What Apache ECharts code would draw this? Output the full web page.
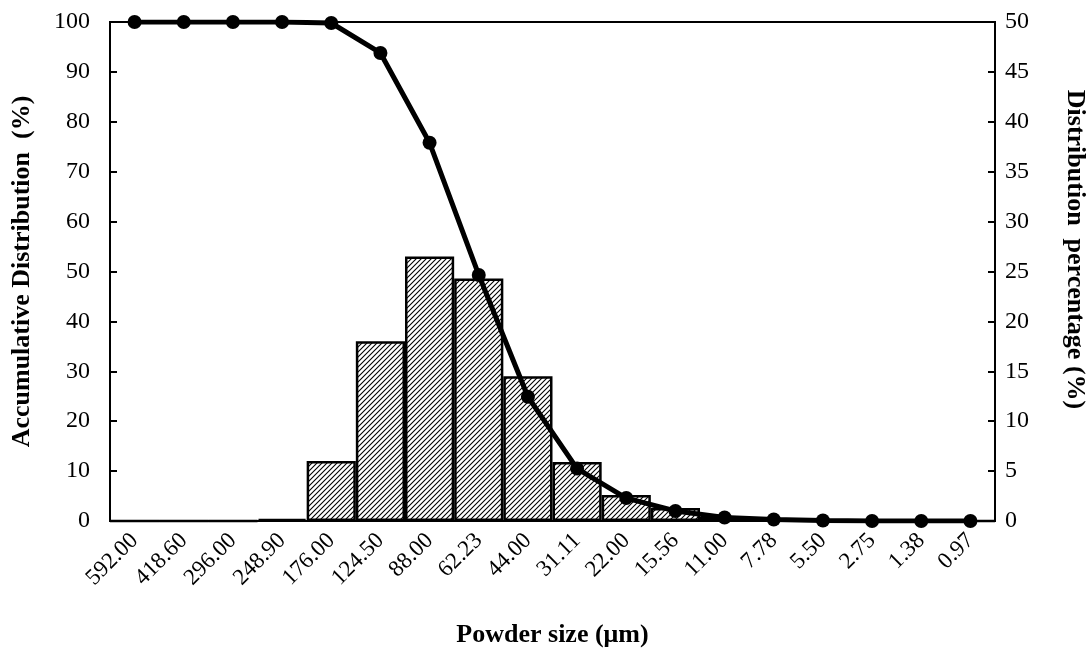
<!DOCTYPE html>
<html>
<head>
<meta charset="utf-8">
<script src="https://cdn.jsdelivr.net/npm/echarts@6/dist/echarts.min.js"></script>
<style>
  html, body { margin: 0; padding: 0; background: #fff; }
  #chart { width: 1090px; height: 651px; }
</style>
</head>
<body>
<div id="chart"></div>
<script>
const sizes = ['592.00', '418.60', '296.00', '248.90', '176.00', '124.50', '88.00', '62.23', '44.00',
  '31.11', '22.00', '15.56', '11.00', '7.78', '5.50', '2.75', '1.38', '0.97']
const distribution = [0, 0, 0, 0.2, 6.0, 18.0, 26.5, 24.3, 14.5, 5.9, 2.6, 1.3, 0.4, 0.2, 0.1, 0, 0, 0]
const accumulative = [100, 100, 100, 100, 99.8, 93.8, 75.8, 49.3, 24.9, 10.5, 4.6, 2.0, 0.7, 0.3, 0.1, 0, 0, 0]

// hatch fill for the bars
const hatch = document.createElement('canvas')
hatch.width = 5
hatch.height = 5
const hc = hatch.getContext('2d')
hc.fillStyle = '#fff'
hc.fillRect(0, 0, 5, 5)
hc.strokeStyle = '#000'
hc.lineWidth = 1.1
hc.beginPath()
hc.moveTo(-1, 6); hc.lineTo(6, -1)
hc.moveTo(-1, 1); hc.lineTo(1, -1)
hc.moveTo(4, 6); hc.lineTo(6, 4)
hc.stroke()

const font = 'Liberation Serif'
const chart = echarts.init(document.getElementById('chart'))

const option = {
  animation: false,
  textStyle: { fontFamily: font, color: '#000' },
  grid: {
    left: 110, right: 95, top: 22, bottom: 130,
    outerBoundsMode: 'none',
    show: true, borderColor: '#000', borderWidth: 2
  },
  xAxis: {
    type: 'category',
    data: sizes,
    name: 'Powder size (μm)',
    nameLocation: 'middle',
    nameGap: 101,
    nameTextStyle: { fontFamily: font, fontSize: 26, fontWeight: 'bold', color: '#000' },
    axisLine: { lineStyle: { color: '#000', width: 2 } },
    axisTick: { show: false },
    axisLabel: { rotate: 45, fontFamily: font, fontSize: 23, color: '#000', margin: 16, interval: 0 }
  },
  yAxis: [{
    type: 'value',
    min: 0, max: 100, interval: 10,
    name: 'Accumulative Distribution  (%)',
    nameLocation: 'middle',
    nameGap: 75,
    nameTextStyle: { fontFamily: font, fontSize: 26, fontWeight: 'bold', color: '#000' },
    axisLine: { show: true, lineStyle: { color: '#000', width: 2 } },
    axisTick: { show: true, inside: true, length: 7, lineStyle: { color: '#000', width: 2 } },
    axisLabel: { fontFamily: font, fontSize: 24, color: '#000', margin: 20 },
    splitLine: { show: false }
  }, {
    type: 'value',
    min: 0, max: 50, interval: 5,
    name: 'Distribution  percentage (%)',
    nameLocation: 'middle',
    nameGap: 67,
    nameRotate: -90,
    nameTextStyle: { fontFamily: font, fontSize: 26, fontWeight: 'bold', color: '#000', padding: [0, 44, 0, 0] },
    axisLine: { show: true, lineStyle: { color: '#000', width: 2 } },
    axisTick: { show: true, inside: true, length: 7, lineStyle: { color: '#000', width: 2 } },
    axisLabel: { fontFamily: font, fontSize: 24, color: '#000', margin: 10 },
    splitLine: { show: false }
  }],
  series: [{
    type: 'bar',
    yAxisIndex: 1,
    data: distribution,
    barCategoryGap: '0%',
    itemStyle: {
      color: { image: hatch, repeat: 'repeat' },
      borderColor: '#000',
      borderWidth: 2.5
    }
  }, {
    type: 'line',
    yAxisIndex: 0,
    data: accumulative,
    symbol: 'circle',
    symbolSize: 14,
    z: 5,
    lineStyle: { color: '#000', width: 5 },
    itemStyle: { color: '#000' }
  }]
}

chart.setOption(option)
</script>
</body>
</html>
